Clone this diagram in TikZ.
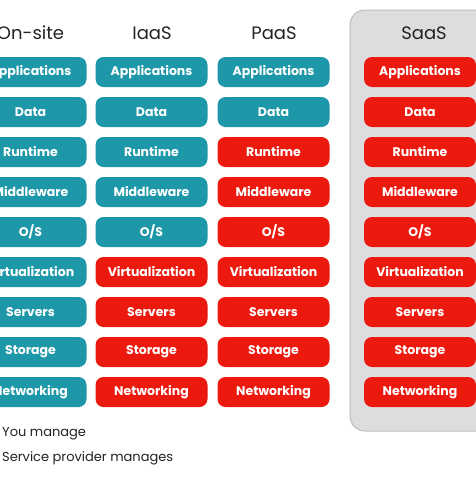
\documentclass[tikz,border=0pt]{standalone}
\usepackage{fontspec}
\setmainfont{Poppins}
\usepackage{xcolor}
\usetikzlibrary{positioning}

\definecolor{youteal}{HTML}{1E98A8}
\definecolor{provred}{HTML}{EC1A0E}
\definecolor{panelgrey}{HTML}{DDDDDF}
\definecolor{panelline}{HTML}{BDBDC0}
\definecolor{headink}{HTML}{232323}

\tikzset{
  layer/.style={rounded corners=8pt, minimum width=112pt, minimum height=30pt,
    inner sep=0pt, text=white, font=\fontsize{12.5}{14}\selectfont\bfseries},
  head/.style={text=headink, font=\fontsize{18}{20}\selectfont},
  legendtext/.style={anchor=west, text=headink, inner sep=0pt, font=\fontsize{13}{15}\selectfont},
}

\begin{document}
\begin{tikzpicture}[x=1pt,y=-1pt,line join=round]
  \useasboundingbox (0,0) rectangle (476,477);
  \clip (0,0) rectangle (476,477);
  \fill[white] (0,0) rectangle (476,477);

  % SaaS panel (runs off the right edge)
  \draw[panelline, fill=panelgrey, line width=1pt, rounded corners=15pt] (350,10) rectangle (510,431);

  % columns: name / box x / header x / rows you manage / title
  \foreach \col/\xx/\hx/\own/\title in {onsite/30.5/30.5/9/On-site, iaas/151.5/152/5/IaaS,
      paas/273.5/274/2/PaaS, saas/420/424/0/SaaS}{
    \node[head] (\col-head) at (\hx,33) {\title};
    \foreach \lab [count=\i] in {Applications,Data,Runtime,Middleware,O/S,
        Virtualization,Servers,Storage,Networking}{
      \ifnum\i>\own \def\boxcol{provred}\else \def\boxcol{youteal}\fi
      \node[layer, fill=\boxcol] (\col-\i) at (\xx,32+40*\i) {\lab};
    }
  }

  % legend
  \node[legendtext] (legend-you) at (2,434) {You manage};
  \node[legendtext] (legend-provider) at (2,458) {Service provider manages};
\end{tikzpicture}
\end{document}
